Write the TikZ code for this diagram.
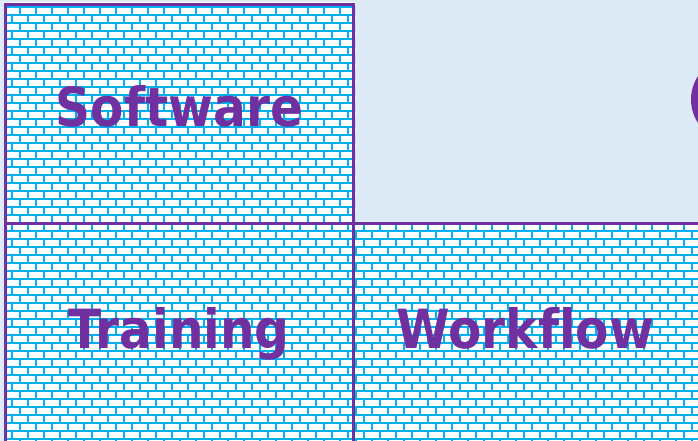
\documentclass[tikz,border=0pt]{standalone}
\usepackage{fontspec}
\newfontfamily\cellfont{DejaVu Sans Condensed}[Ligatures=NoCommon]
\definecolor{frame}{HTML}{7030A0}
\definecolor{mortar}{HTML}{00B0F0}
\definecolor{paleblue}{HTML}{DDEBF7}
\pgfdeclarelayer{background}
\pgfsetlayers{background,main}

% Brick wall in picture coordinates, so every cell shares one bond
\newcommand\brickwall{%
  \fill[white] (-10,-10) rectangle (710,450);
  \foreach \k in {0,...,55}{%
    \draw[mortar, line width=2pt] (-10,{7+8*\k}) -- (710,{7+8*\k});
    \pgfmathsetmacro\xs{mod(\k,2)==0 ? 3 : -5}%
    \draw[mortar, line width=8pt, dash pattern=on 2pt off 14pt]
      (\xs,{11+8*\k}) -- (710,{11+8*\k});
  }%
}

\begin{document}
\begin{tikzpicture}[x=1pt, y=-1pt,
  cell/.style={draw=frame, line width=3pt, inner sep=0pt,
    minimum width=348pt},
  celltext/.style={text=frame, anchor=base, inner sep=0pt,
    font=\cellfont\bfseries\fontsize{54}{60}\selectfont}]
  \useasboundingbox (0,0) rectangle (698,441);

  % grid of cells
  \node[cell, minimum height=219pt] (software) at (179.5,114) {};
  \node[cell, minimum height=220pt] (training) at (179.5,333.5) {};
  \node[cell, minimum height=220pt] (workflow) at (527.5,333.5) {};

  % brick infill behind the cell frames
  \begin{pgfonlayer}{background}
    \fill[paleblue] (0,0) rectangle (698,441);
    \foreach \c in {software,training,workflow}{
      \begin{scope}
        \clip (\c.north west) rectangle (\c.south east);
        \brickwall
      \end{scope}
    }
  \end{pgfonlayer}

  % hub disc reaching in from the right
  \node[circle, fill=frame, minimum size=86pt, inner sep=0pt] (hub) at (734,99.5) {};

  % labels
  \node[celltext] (softwarelabel) at (179.5,126) {Software};
  \node[celltext] (traininglabel) at (179,348) {Training};
  \node[celltext] (workflowlabel) at (525.5,348) {Workflow};
\end{tikzpicture}
\end{document}
